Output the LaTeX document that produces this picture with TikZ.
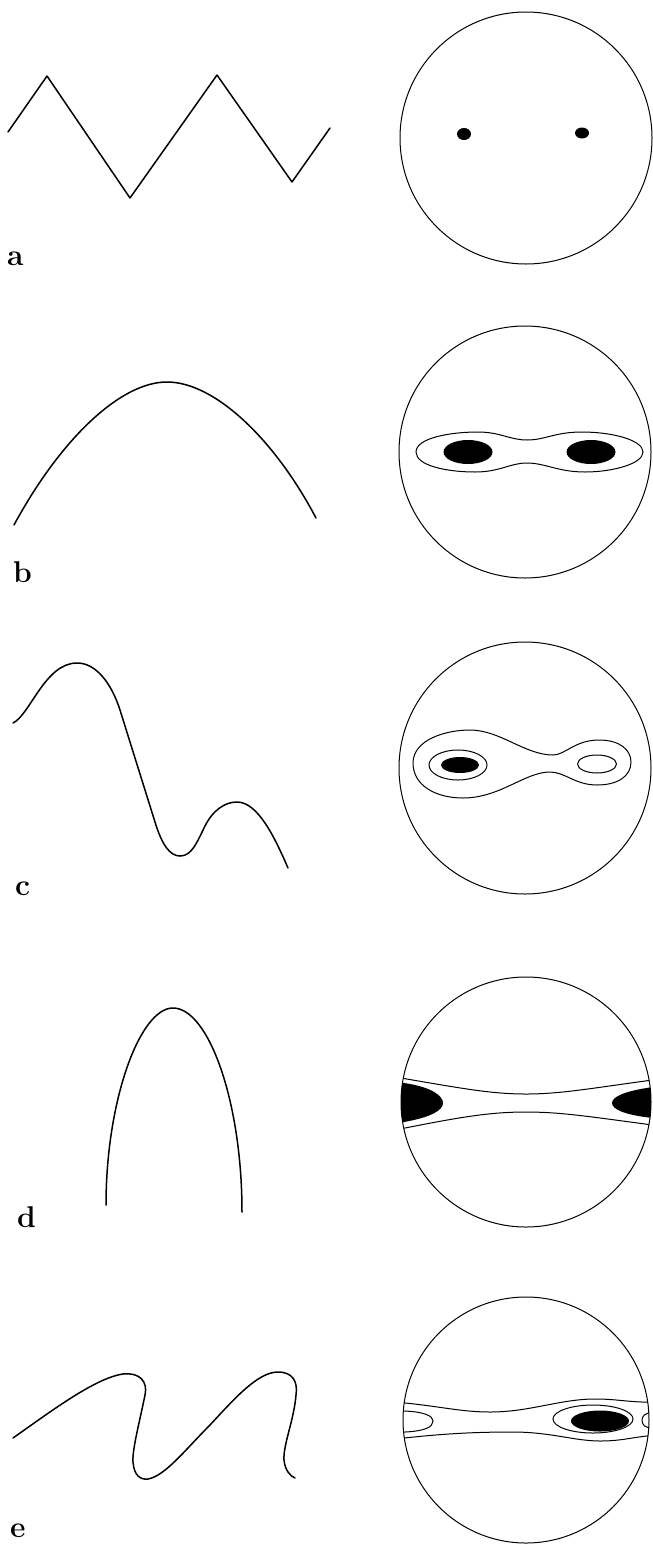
\documentclass[tikz,border=0pt]{standalone}
\usepackage{tikz}

\tikzset{
  curve/.style={line width=1.5pt, line join=round, line cap=round},
  rim/.style={line width=1pt},
  level/.style={line width=1pt},
  panel/.style={anchor=base west, inner sep=0pt, font=\fontsize{30}{34}\selectfont\bfseries}
}

\begin{document}
\begin{tikzpicture}[x=1pt, y=-1pt]
    \useasboundingbox (0,0) rectangle (653,1547);

    % left column: the curves
    \draw[curve] (8,132) -- (47,76) -- (130,198) -- (217,75) -- (292,182) -- (330,128);
    \draw[curve] (14,525) .. controls (60,440) and (120,382) .. (167,382)
      .. controls (215,382) and (275,440) .. (316,518);
    \draw[curve] (13,723) .. controls (30,715) and (45,663) .. (77,663)
      .. controls (97,663) and (112,685) .. (120,710) -- (155,822)
      .. controls (162,845) and (170,856) .. (180,856)
      .. controls (192,856) and (197,842) .. (205,826)
      .. controls (213,810) and (225,802) .. (237,802)
      .. controls (258,802) and (275,838) .. (288,868);
    \draw[curve] (106,1205) .. controls (106,1100) and (140,1008) .. (173,1008)
      .. controls (208,1008) and (242,1100) .. (242,1212);
    \draw[curve] (13,1438) .. controls (50,1412) and (95,1378) .. (123,1374)
      .. controls (140,1372) and (148,1382) .. (145,1395)
      .. controls (140,1420) and (132,1450) .. (133,1462)
      .. controls (134,1475) and (140,1480) .. (148,1479)
      .. controls (165,1476) and (185,1450) .. (210,1425)
      .. controls (235,1398) and (258,1372) .. (278,1372)
      .. controls (293,1372) and (298,1382) .. (296,1395)
      .. controls (294,1420) and (283,1445) .. (284,1460)
      .. controls (285,1470) and (290,1476) .. (295,1478);

    \node[panel] (la) at (7,265) {a};
    \node[panel] (lb) at (13,582) {b};
    \node[panel] (lc) at (15,895) {c};
    \node[panel] (ld) at (17,1227) {d};
    \node[panel] (le) at (10,1537) {e};

    % right column: the discs
    \draw[rim] (526,138) circle[radius=126pt];
    \fill (464,134) ellipse[x radius=7pt, y radius=6pt];
    \fill (582,133) ellipse[x radius=7pt, y radius=5.5pt];

    \draw[rim] (525,452) circle[radius=126pt];
    \draw[level] (416,452) .. controls (416,438) and (450,432) .. (478,432)
      .. controls (500,432) and (510,440) .. (527,440)
      .. controls (545,440) and (555,432) .. (582,432)
      .. controls (612,432) and (643,440) .. (643,452)
      .. controls (643,464) and (612,472) .. (585,472)
      .. controls (558,472) and (545,463) .. (527,463)
      .. controls (510,463) and (500,472) .. (475,472)
      .. controls (448,472) and (416,466) .. (416,452) -- cycle;
    \fill (468,452) ellipse[x radius=24.5pt, y radius=12pt];
    \fill (591,452) ellipse[x radius=24.5pt, y radius=12pt];

    \draw[rim] (525,768) circle[radius=126pt];
    \draw[level] (413,763) .. controls (413,740) and (445,730) .. (470,730)
      .. controls (500,730) and (525,755) .. (553,755)
      .. controls (565,755) and (575,740) .. (599,740)
      .. controls (620,740) and (631,750) .. (631,762)
      .. controls (631,776) and (618,785) .. (597,785)
      .. controls (575,785) and (565,772) .. (550,772)
      .. controls (525,772) and (500,798) .. (463,798)
      .. controls (435,798) and (413,785) .. (413,763) -- cycle;
    \draw[level] (458,765) ellipse[x radius=29pt, y radius=15pt];
    \fill (460,765) ellipse[x radius=19pt, y radius=8pt];
    \draw[level] (597,764) ellipse[x radius=19.5pt, y radius=9pt];

    \draw[rim] (526,1102) circle[radius=125pt];
    \begin{scope}
      \clip (526,1102) circle[radius=125pt];
      \draw[level] (395,1077) .. controls (460,1088) and (490,1094) .. (526,1094)
        .. controls (562,1094) and (592,1088) .. (660,1079);
      \draw[level] (395,1130) .. controls (460,1117) and (490,1112) .. (526,1112)
        .. controls (562,1112) and (592,1117) .. (660,1126);
      \fill (390,1081) -- (404,1083) .. controls (432,1087) and (443,1096) .. (443,1103)
        .. controls (443,1110) and (432,1117) .. (404,1122) -- (390,1124) -- cycle;
      \fill (665,1085) -- (653,1087) .. controls (624,1091) and (612,1097) .. (612,1103)
        .. controls (612,1109) and (624,1115) .. (653,1118) -- (665,1120) -- cycle;
    \end{scope}

    \draw[rim] (526,1420) circle[radius=123pt];
    \begin{scope}
      \clip (526,1420) circle[radius=123pt];
      \draw[level] (395,1402) .. controls (440,1406) and (460,1412) .. (490,1412)
        .. controls (530,1412) and (560,1399) .. (595,1399)
        .. controls (620,1399) and (630,1403) .. (660,1402);
      \draw[level] (395,1439) .. controls (440,1434) and (470,1432) .. (513,1432)
        .. controls (550,1432) and (575,1441) .. (600,1441)
        .. controls (625,1441) and (635,1436) .. (660,1435);
      \draw[level] (395,1411) -- (405,1411) .. controls (425,1412) and (433,1416) .. (433,1421)
        .. controls (433,1427) and (425,1431) .. (405,1432) -- (395,1432);
      \draw[level] (660,1412) -- (653,1412) .. controls (645,1413) and (642,1416) .. (642,1420)
        .. controls (642,1425) and (645,1428) .. (653,1428) -- (660,1428);
    \end{scope}
    \draw[level] (593,1419) ellipse[x radius=40pt, y radius=14pt];
    \fill (600,1421) ellipse[x radius=29pt, y radius=10.5pt];
  \end{tikzpicture}
\end{document}
